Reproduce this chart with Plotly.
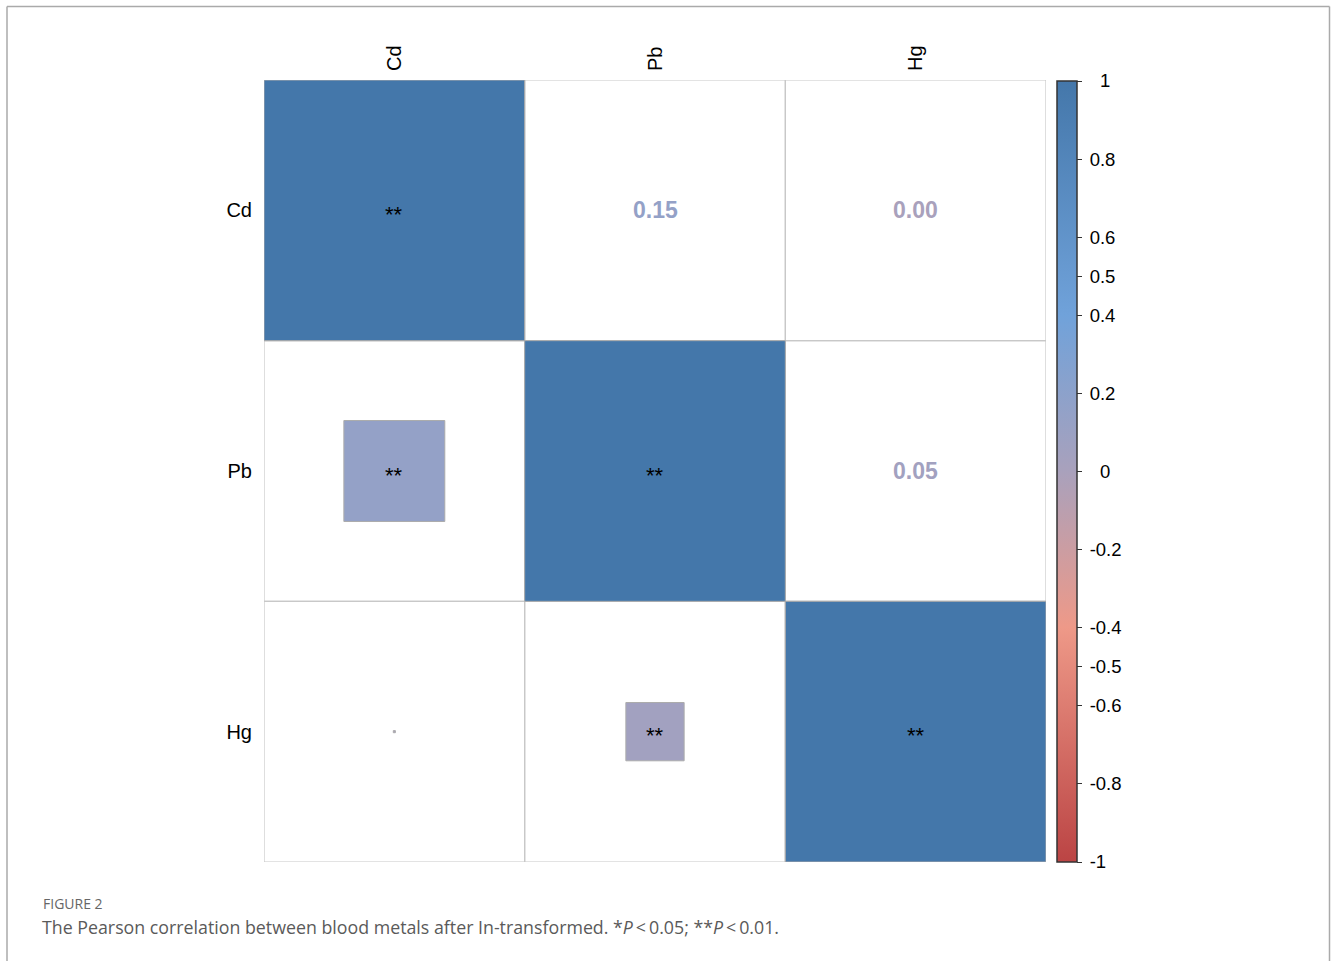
import numpy as np
import plotly.graph_objects as go

metals = ["Cd", "Pb", "Hg"]
corr = [[1.00, 0.15, 0.00],
        [0.15, 1.00, 0.05],
        [0.00, 0.05, 1.00]]
stars = [["**", "", ""],
         ["**", "**", ""],
         ["", "**", "**"]]
cb_ticks = [1, 0.8, 0.6, 0.5, 0.4, 0.2, 0, -0.2, -0.4, -0.5, -0.6, -0.8, -1]

cscale = [[0.0, "#BB4444"], [0.3, "#EE9988"], [0.5, "#A9A1BC"],
          [0.7, "#70A2DA"], [1.0, "#4477AA"]]

def hex2rgb(h):
    h = h.lstrip("#")
    return [int(h[i:i+2], 16) for i in (0, 2, 4)]

def color_of(v):
    p = (v + 1) / 2
    for (p0, c0), (p1, c1) in zip(cscale[:-1], cscale[1:]):
        if p0 <= p <= p1:
            t = (p - p0) / (p1 - p0) if p1 > p0 else 0
            a, b = hex2rgb(c0), hex2rgb(c1)
            rgb = [round(a[k] + t * (b[k] - a[k])) for k in range(3)]
            return "rgb(%d,%d,%d)" % tuple(rgb)
    return cscale[-1][1]

W, H = 1331, 961
px = lambda x: x / W
py = lambda y: 1 - y / H

fig = go.Figure()
shapes = []
annotations = []
n = len(metals)
for i in range(n):
    for j in range(n):
        shapes.append(dict(type="rect", xref="x", yref="y",
                           x0=j - 0.5, x1=j + 0.5, y0=i - 0.5, y1=i + 0.5,
                           line=dict(color="#C8C8C8", width=1.2),
                           fillcolor="rgba(0,0,0,0)", layer="below"))
for i in range(n):
    for j in range(n):
        r = corr[i][j]
        if j <= i:
            s = np.sqrt(abs(r)) / 2
            if s < 0.004:
                s = 0.004
            shapes.append(dict(type="rect", xref="x", yref="y",
                               x0=j - s, x1=j + s, y0=i - s, y1=i + s,
                               line=dict(color="#ABABAB", width=1),
                               fillcolor=color_of(r), layer="below"))
            if stars[i][j]:
                annotations.append(dict(x=j, y=i, xref="x", yref="y",
                                        text=stars[i][j], showarrow=False,
                                        yshift=-4,
                                        font=dict(size=22, color="black",
                                                  family="Liberation Sans, Arial")))
        else:
            annotations.append(dict(x=j, y=i, xref="x", yref="y",
                                    text="<b>%.2f</b>" % r, showarrow=False,
                                    font=dict(size=23, color=color_of(r),
                                              family="Liberation Sans, Arial")))

def fmt(t):
    s = "0" if t == 0 else ("1" if t == 1 else ("-1" if t == -1 else ("%g" % t)))
    if s in ("1", "0"):
        s = "\u2007" + s
    return "\u2009" + s

fig.add_trace(go.Scatter(x=[None], y=[None], mode="markers", showlegend=False,
                         marker=dict(color=[0], cmin=-1, cmax=1,
                                     colorscale=cscale, showscale=True,
                                     colorbar=dict(
                                         x=px(1057), xanchor="left",
                                         y=py(471.5), yanchor="middle",
                                         len=(862 - 81) / H, lenmode="fraction",
                                         thickness=20, thicknessmode="pixels",
                                         outlinecolor="#333333", outlinewidth=1.5,
                                         tickvals=cb_ticks,
                                         ticktext=[fmt(t) for t in cb_ticks],
                                         ticks="outside", ticklen=5,
                                         tickcolor="#333333",
                                         tickfont=dict(size=18.5, color="black",
                                                       family="Liberation Sans, Arial"),
                                         xpad=0, ypad=0))))

for (x0, y0, x1, y1) in [(7, 6.5, 1329.5, 6.5), (7, 6.5, 7, 961), (1329.5, 6.5, 1329.5, 961)]:
    shapes.append(dict(type="line", xref="paper", yref="paper",
                       x0=px(x0), y0=py(y0), x1=px(x1), y1=py(y1),
                       line=dict(color="#AAAAAA", width=1.5)))

annotations.append(dict(x=px(41), y=py(903), xref="paper", yref="paper",
                        xanchor="left", yanchor="middle", showarrow=False,
                        text="FIGURE 2",
                        font=dict(size=14, color="#666666", family="Open Sans")))
annotations.append(dict(x=px(40), y=py(927), xref="paper", yref="paper",
                        xanchor="left", yanchor="middle", showarrow=False,
                        text="The Pearson correlation between blood metals after In-transformed. *<i>P</i>\u2009<\u20090.05; **<i>P</i>\u2009<\u20090.01.",
                        font=dict(size=17.8, color="#5A5A5A", family="Open Sans")))

fig.update_layout(
    width=W, height=H,
    margin=dict(l=0, r=0, t=0, b=0),
    paper_bgcolor="white", plot_bgcolor="white",
    shapes=shapes, annotations=annotations,
    xaxis=dict(domain=[px(264), px(1046)], range=[-0.5, n - 0.5],
               tickvals=list(range(n)), ticktext=metals, side="top",
               tickangle=-90, showgrid=False, zeroline=False,
               ticks="outside", ticklen=4, tickcolor="rgba(0,0,0,0)",
               tickfont=dict(size=20, color="black", family="Liberation Sans, Arial"),
               showline=False, fixedrange=True),
    yaxis=dict(domain=[py(862), py(80)], range=[n - 0.5, -0.5],
               tickvals=list(range(n)), ticktext=metals,
               showgrid=False, zeroline=False,
               ticks="outside", ticklen=7, tickcolor="rgba(0,0,0,0)",
               tickfont=dict(size=20, color="black", family="Liberation Sans, Arial"),
               showline=False, fixedrange=True),
)

fig.write_html("out.html", config={"displayModeBar": False},
               post_script="document.body.style.margin='0px';document.body.style.overflow='hidden';")
